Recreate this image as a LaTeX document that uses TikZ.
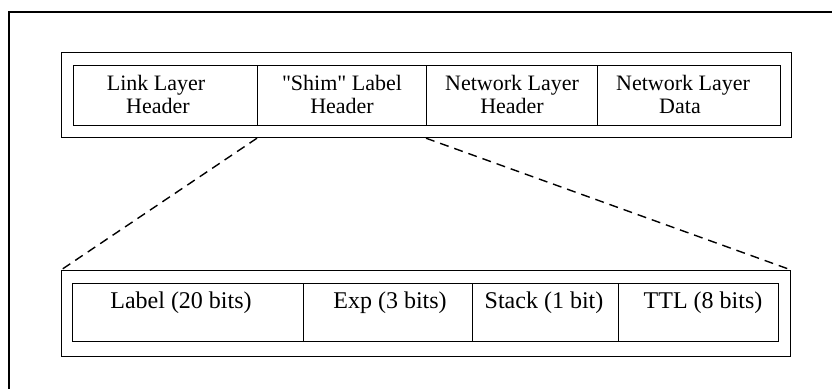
\documentclass[tikz,border=0pt]{standalone}
\usepackage{fontspec}
\setmainfont{Liberation Serif}[Ligatures=TeXOff]
\begin{document}
\begin{tikzpicture}[x=1pt,y=-1pt,
  box/.style={draw,line width=1.2pt,inner sep=0pt,anchor=north west},
  toptxt/.style={anchor=base,inner sep=0pt,font=\fontsize{22}{22}\selectfont},
  bottxt/.style={anchor=base,inner sep=0pt,font=\fontsize{24}{24}\selectfont},
  dashline/.style={line width=1.4pt,dash pattern=on 9pt off 6pt}]
\useasboundingbox (0,0) rectangle (832,388);
\clip (0,0) rectangle (832,388);
\fill[white] (0,0) rectangle (832,388);
% outer frame
\coordinate (frtr) at (834,12);
\coordinate (frtl) at (9,12);
\coordinate (frbl) at (9,390);
\draw[line width=1.2pt] (frtr) -- (frtl) -- (frbl);
% top packet
\node[box,minimum width=730pt,minimum height=85pt] (tout) at (61,52) {};
\node[box,minimum width=184pt,minimum height=60pt] (c1) at (73,65) {};
\node[box,minimum width=169pt,minimum height=60pt] (c2) at (257,65) {};
\node[box,minimum width=171pt,minimum height=60pt] (c3) at (426,65) {};
\node[box,minimum width=183pt,minimum height=60pt] (c4) at (597,65) {};
\node[toptxt] (t1a) at (156,90) {Link Layer};
\node[toptxt] (t1b) at (158,113) {Header};
\node[toptxt] (t2a) at (342,90) {"Shim" Label};
\node[toptxt] (t2b) at (342,113) {Header};
\node[toptxt] (t3a) at (512,90) {Network Layer};
\node[toptxt] (t3b) at (512,113) {Header};
\node[toptxt] (t4a) at (683,90) {Network Layer};
\node[toptxt] (t4b) at (680,113) {Data};
% bottom header
\node[box,minimum width=729pt,minimum height=86pt] (bout) at (61,270) {};
\node[box,minimum width=231pt,minimum height=58pt] (b1) at (72,283) {};
\node[box,minimum width=169pt,minimum height=58pt] (b2) at (303,283) {};
\node[box,minimum width=146pt,minimum height=58pt] (b3) at (472,283) {};
\node[box,minimum width=160pt,minimum height=58pt] (b4) at (618,283) {};
\node[bottxt] (l1) at (181,308) {Label (20 bits)};
\node[bottxt] (l2) at (390,308) {Exp (3 bits)};
\node[bottxt] (l3) at (544,308) {Stack (1 bit)};
\node[bottxt] (l4) at (703,308) {TTL (8 bits)};
% dashed expansion lines
\draw[dashline] (tout.south -| c2.west) -- (bout.north west);
\draw[dashline] (tout.south -| c3.west) -- (bout.north east);
\end{tikzpicture}
\end{document}
